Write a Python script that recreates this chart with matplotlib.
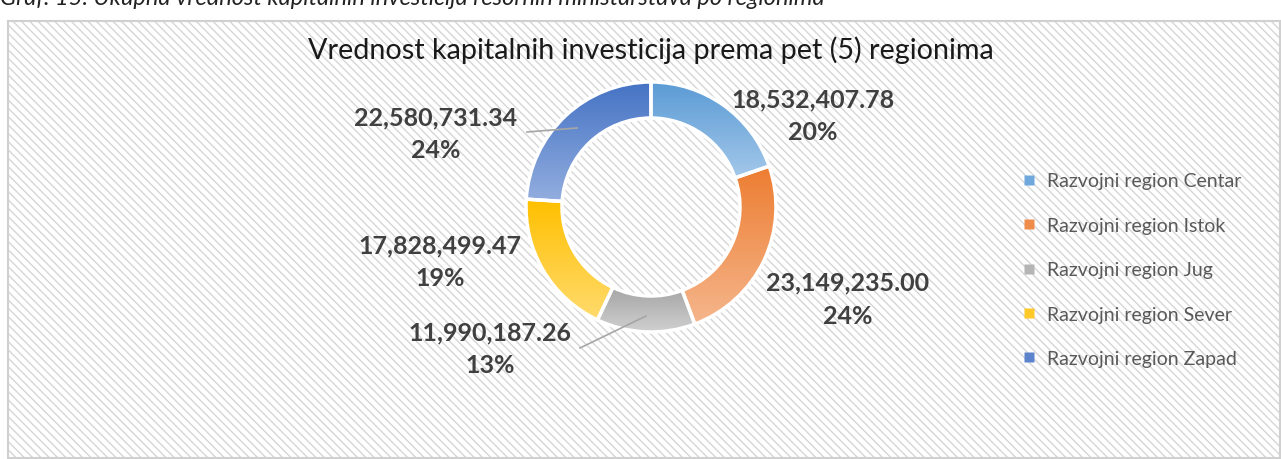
import numpy as np
import matplotlib.pyplot as plt
from matplotlib.patches import Rectangle
from matplotlib.lines import Line2D
from matplotlib.colors import LinearSegmentedColormap

plt.rcParams['font.family'] = ['Lato', 'DejaVu Sans']
plt.rcParams['hatch.linewidth'] = 1.0

W, H = 1281, 460

# data
regions = ["Razvojni region Centar", "Razvojni region Istok", "Razvojni region Jug",
           "Razvojni region Sever", "Razvojni region Zapad"]
values = [18532407.78, 23149235.00, 11990187.26, 17828499.47, 22580731.34]
pct_labels = ["20%", "24%", "13%", "19%", "24%"]
title = "Vrednost kapitalnih investicija prema pet (5) regionima"
caption = "Graf. 15. Ukupna vrednost kapitalnih investicija resornih ministarstava po regionima"

# gradient colours (top -> bottom of each wedge)
top_colors = ["#5B9BD5", "#ED7D31", "#A5A5A5", "#FFC000", "#4472C4"]
bottom_colors = ["#A4C8EA", "#F5B68C", "#D0D0D0", "#FFDB6E", "#93AEDF"]
legend_colors = ["#6FA8DC", "#EF8C4C", "#B5B5B5", "#FFC929", "#5B84CC"]

# label layout in pixels (x, y of value line)
label_pos = [(813, 100), (848, 283), (490, 333), (440, 246), (436, 118)]
leaders = {2: ((580, 349), (646, 317)), 4: ((527, 133), (577, 129))}


def Y(py):
    return H - py


fig = plt.figure(figsize=(W / 100, H / 100), dpi=100)
fig.patch.set_facecolor('white')
ax = fig.add_axes([0, 0, 1, 1])

# hatched chart area + border
ax.add_patch(Rectangle((8, Y(459)), 1272, 437, facecolor='white', edgecolor='#D6D6D6',
                       hatch='\\\\\\\\', linewidth=0, zorder=0))
ax.add_patch(Rectangle((8, Y(459)), 1272, 437, facecolor='none', edgecolor='#D0D0D0',
                       linewidth=1.5, zorder=1))

wedges, _ = ax.pie(values, radius=125, center=(651, Y(208)), startangle=90,
                   counterclock=False, frame=True,
                   wedgeprops=dict(width=36, edgecolor='white', linewidth=2.5))

grad = np.linspace(0, 1, 256).reshape(-1, 1)
for w, ct, cb in zip(wedges, top_colors, bottom_colors):
    ext = w.get_path().get_extents()
    cmap = LinearSegmentedColormap.from_list('g', [cb, ct])
    im = ax.imshow(grad, cmap=cmap, extent=[ext.x0, ext.x1, ext.y0, ext.y1],
                   origin='lower', aspect='auto', zorder=2, interpolation='bilinear')
    im.set_clip_path(w)
    w.set_facecolor('none')
    w.set_zorder(3)

for i, (val, pct) in enumerate(zip(values, pct_labels)):
    x, y = label_pos[i]
    ax.text(x, Y(y), f"{val:,.2f}", ha='center', va='center', fontsize=18,
            fontweight='bold', color='#404040', zorder=4)
    ax.text(x, Y(y + 33), pct, ha='center', va='center', fontsize=18,
            fontweight='bold', color='#404040', zorder=4)

for i, (p0, p1) in leaders.items():
    ax.plot([p0[0], p1[0]], [Y(p0[1]), Y(p1[1])], color='#A6A6A6', lw=1.2, zorder=4)

ax.text(651, Y(50), title, ha='center', va='center', fontsize=20.7, color='#1a1a1a', zorder=4)
ax.text(0, Y(5), caption, ha='left', va='baseline', fontsize=17, style='italic',
        color='#222222', zorder=4)

handles = [Line2D([], [], marker='s', linestyle='none', markersize=6.5,
                  markerfacecolor=c, markeredgecolor='none') for c in legend_colors]
leg = ax.legend(handles, regions, loc='upper left', bbox_to_anchor=(1004 / W, 1 - 156 / H),
                frameon=False, fontsize=14, labelspacing=1.41, handletextpad=0.5,
                handlelength=0.8, labelcolor='#595959')
leg.set_zorder(5)

ax.set_aspect('auto')
ax.set_xlim(0, W)
ax.set_ylim(0, H)
ax.axis('off')

fig.savefig('out.png', dpi=100)
